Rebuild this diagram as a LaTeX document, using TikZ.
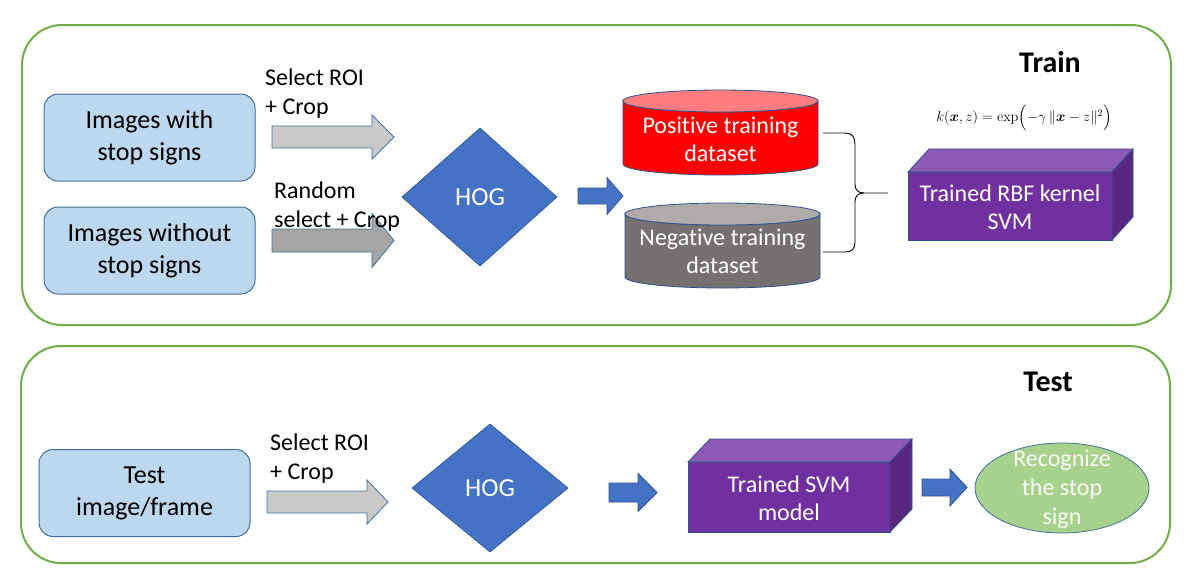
\documentclass[tikz,border=0pt]{standalone}
\usepackage{amsmath}
\usepackage[no-math]{fontspec}
\setmainfont{Carlito}[RawFeature=-liga]
\definecolor{framegreen}{HTML}{70AD47}
\definecolor{boxfill}{HTML}{BDD7EE}
\definecolor{boxedge}{HTML}{41719C}
\definecolor{edgeblue}{HTML}{2F528F}
\definecolor{hogblue}{HTML}{4472C4}
\definecolor{greyA}{HTML}{C9C9C9}
\definecolor{greyB}{HTML}{A5A5A5}
\definecolor{cylred}{HTML}{FF0000}
\definecolor{cylredtop}{HTML}{FF7C80}
\definecolor{cylgrey}{HTML}{767171}
\definecolor{cylgreytop}{HTML}{AFABAB}
\definecolor{cubefront}{HTML}{7030A0}
\definecolor{cubetop}{HTML}{8E5AB5}
\definecolor{cubeside}{HTML}{5A2780}
\definecolor{ellgreen}{HTML}{A9D18E}
\newcommand\blkarrow[7]{%
  \path[#1] (#2,#5-#6) -- (#3,#5-#6) -- (#3,#5-#7) -- (#4,#5) -- (#3,#5+#7) -- (#3,#5+#6) -- (#2,#5+#6) -- cycle;}
\begin{document}
\begin{tikzpicture}[x=1pt,y=-1pt,
  frame/.style={draw=framegreen, line width=2pt, rounded corners=40pt},
  srcbox/.style={draw=boxedge, fill=boxfill, rounded corners=14pt, line width=1pt,
    minimum width=211pt, minimum height=87pt, align=center, font=\fontsize{26}{32}\selectfont},
  lbl/.style={inner sep=0pt, align=left, anchor=west, font=\fontsize{24}{29}\selectfont},
  wtxt/.style={inner sep=0pt, align=center, text=white, font=\fontsize{24}{28}\selectfont},
  hogtxt/.style={inner sep=0pt, text=white, font=\fontsize{26}{30}\selectfont},
  title/.style={inner sep=0pt, font=\fontsize{30}{35}\selectfont\bfseries},
  greyarrowA/.style={fill=greyA, draw=boxedge, line width=0.8pt},
  greyarrowB/.style={fill=greyB, draw=boxedge, line width=0.8pt},
  bluearrow/.style={fill=hogblue, draw=edgeblue, line width=0.8pt},
  hogshape/.style={fill=hogblue, draw=edgeblue, line width=0.6pt},
  shapeedge/.style={draw=edgeblue, line width=0.8pt}
]
\path[use as bounding box, fill=white] (0,0) rectangle (1192,587);

% frames
\draw[frame] (22,25) rectangle (1171,325);
\draw[frame] (21,346) rectangle (1170,563);

\node[title] (train) at (1050,62) {Train};
\node[title] (test) at (1048,382) {Test};

% ===== TRAIN =====
\node[srcbox] (img1) at (149.5,137.5) {Images with\\stop signs};
\node[srcbox] (img2) at (149.5,250.5) {Images without\\stop signs};

\blkarrow{greyarrowA}{272}{372}{394}{137}{11}{22}
\blkarrow{greyarrowB}{272}{372}{394}{240.5}{11.5}{27}
\node[lbl] (l1) at (265,93.5) {Select ROI\\+ Crop};
\node[lbl] (l2) at (274,206.5) {Random\\select + Crop};

\path[hogshape] (402,197) -- (480,128) -- (557,197) -- (480,266) -- cycle;
\node[hogtxt] (hog1) at (480,197) {HOG};

\blkarrow{bluearrow}{578}{607}{623}{196}{8}{18.5}

% red cylinder
\path[fill=cylred, shapeedge] (623,101) -- (623,164)
  arc[start angle=180, end angle=360, x radius=97.5pt, y radius=11pt] -- (818,101)
  arc[start angle=0, end angle=-180, x radius=97.5pt, y radius=11pt] -- cycle;
\path[fill=cylredtop, shapeedge] (720.5,101) ellipse[x radius=97.5pt, y radius=11pt];
\node[wtxt] (pos) at (720.5,139) {Positive training\\dataset};

% grey cylinder
\path[fill=cylgrey, shapeedge] (625,214) -- (625,277)
  arc[start angle=180, end angle=360, x radius=97.5pt, y radius=11pt] -- (820,214)
  arc[start angle=0, end angle=-180, x radius=97.5pt, y radius=11pt] -- cycle;
\path[fill=cylgreytop, shapeedge] (722.5,214) ellipse[x radius=97.5pt, y radius=11pt];
\node[wtxt] (neg) at (722.5,251) {Negative training\\dataset};

% brace
\draw[black, line width=0.9pt] (823,133) -- (845,133)
  .. controls (852,133) and (855,137) .. (855,144) -- (855,184)
  .. controls (855,190) and (858,193) .. (864,193) -- (888,193);
\draw[black, line width=0.9pt] (864,193)
  .. controls (858,193) and (855,196) .. (855,202) -- (855,242)
  .. controls (855,249) and (852,252) .. (845,252) -- (823,252);

% RBF cube
\path[fill=cubefront, shapeedge] (908,172) rectangle (1112,240);
\path[fill=cubetop, shapeedge] (908,172) -- (929,149) -- (1133,149) -- (1112,172) -- cycle;
\path[fill=cubeside, shapeedge] (1112,172) -- (1133,149) -- (1133,217) -- (1112,240) -- cycle;
\node[wtxt] (svm1) at (1010,207) {Trained RBF kernel\\SVM};

\node[inner sep=0pt, font=\fontsize{14}{16}\selectfont] (formula) at (1024,118)
  {$k(\boldsymbol{x},z)=\exp\Bigl(-\gamma\,\|\boldsymbol{x}-z\|^{2}\Bigr)$};

% ===== TEST =====
\node[srcbox] (img3) at (144.5,493) {Test\\image/frame};
\blkarrow{greyarrowA}{267}{367}{388}{502}{11}{22}
\node[lbl] (l3) at (270,459) {Select ROI\\+ Crop};

\path[hogshape] (412,488) -- (490,424) -- (568,488) -- (490,552) -- cycle;
\node[hogtxt] (hog2) at (490,488) {HOG};

\blkarrow{bluearrow}{609}{638}{657}{492.5}{9.5}{19}

\path[fill=cubefront, shapeedge] (688,462) rectangle (890,532);
\path[fill=cubetop, shapeedge] (688,462) -- (710,439) -- (912,439) -- (890,462) -- cycle;
\path[fill=cubeside, shapeedge] (890,462) -- (912,439) -- (912,509) -- (890,532) -- cycle;
\node[wtxt] (svm2) at (789,498) {Trained SVM\\model};

\blkarrow{bluearrow}{922}{950}{967}{487.5}{8.5}{18.5}

\path[fill=ellgreen, draw=boxedge, line width=0.8pt] (1062,488) ellipse[x radius=87pt, y radius=45pt];
\node[inner sep=0pt, align=center, text=white!92!ellgreen, font=\fontsize{24}{29}\selectfont] (rec) at (1062,489) {Recognize\\the stop\\sign};
\end{tikzpicture}
\end{document}
